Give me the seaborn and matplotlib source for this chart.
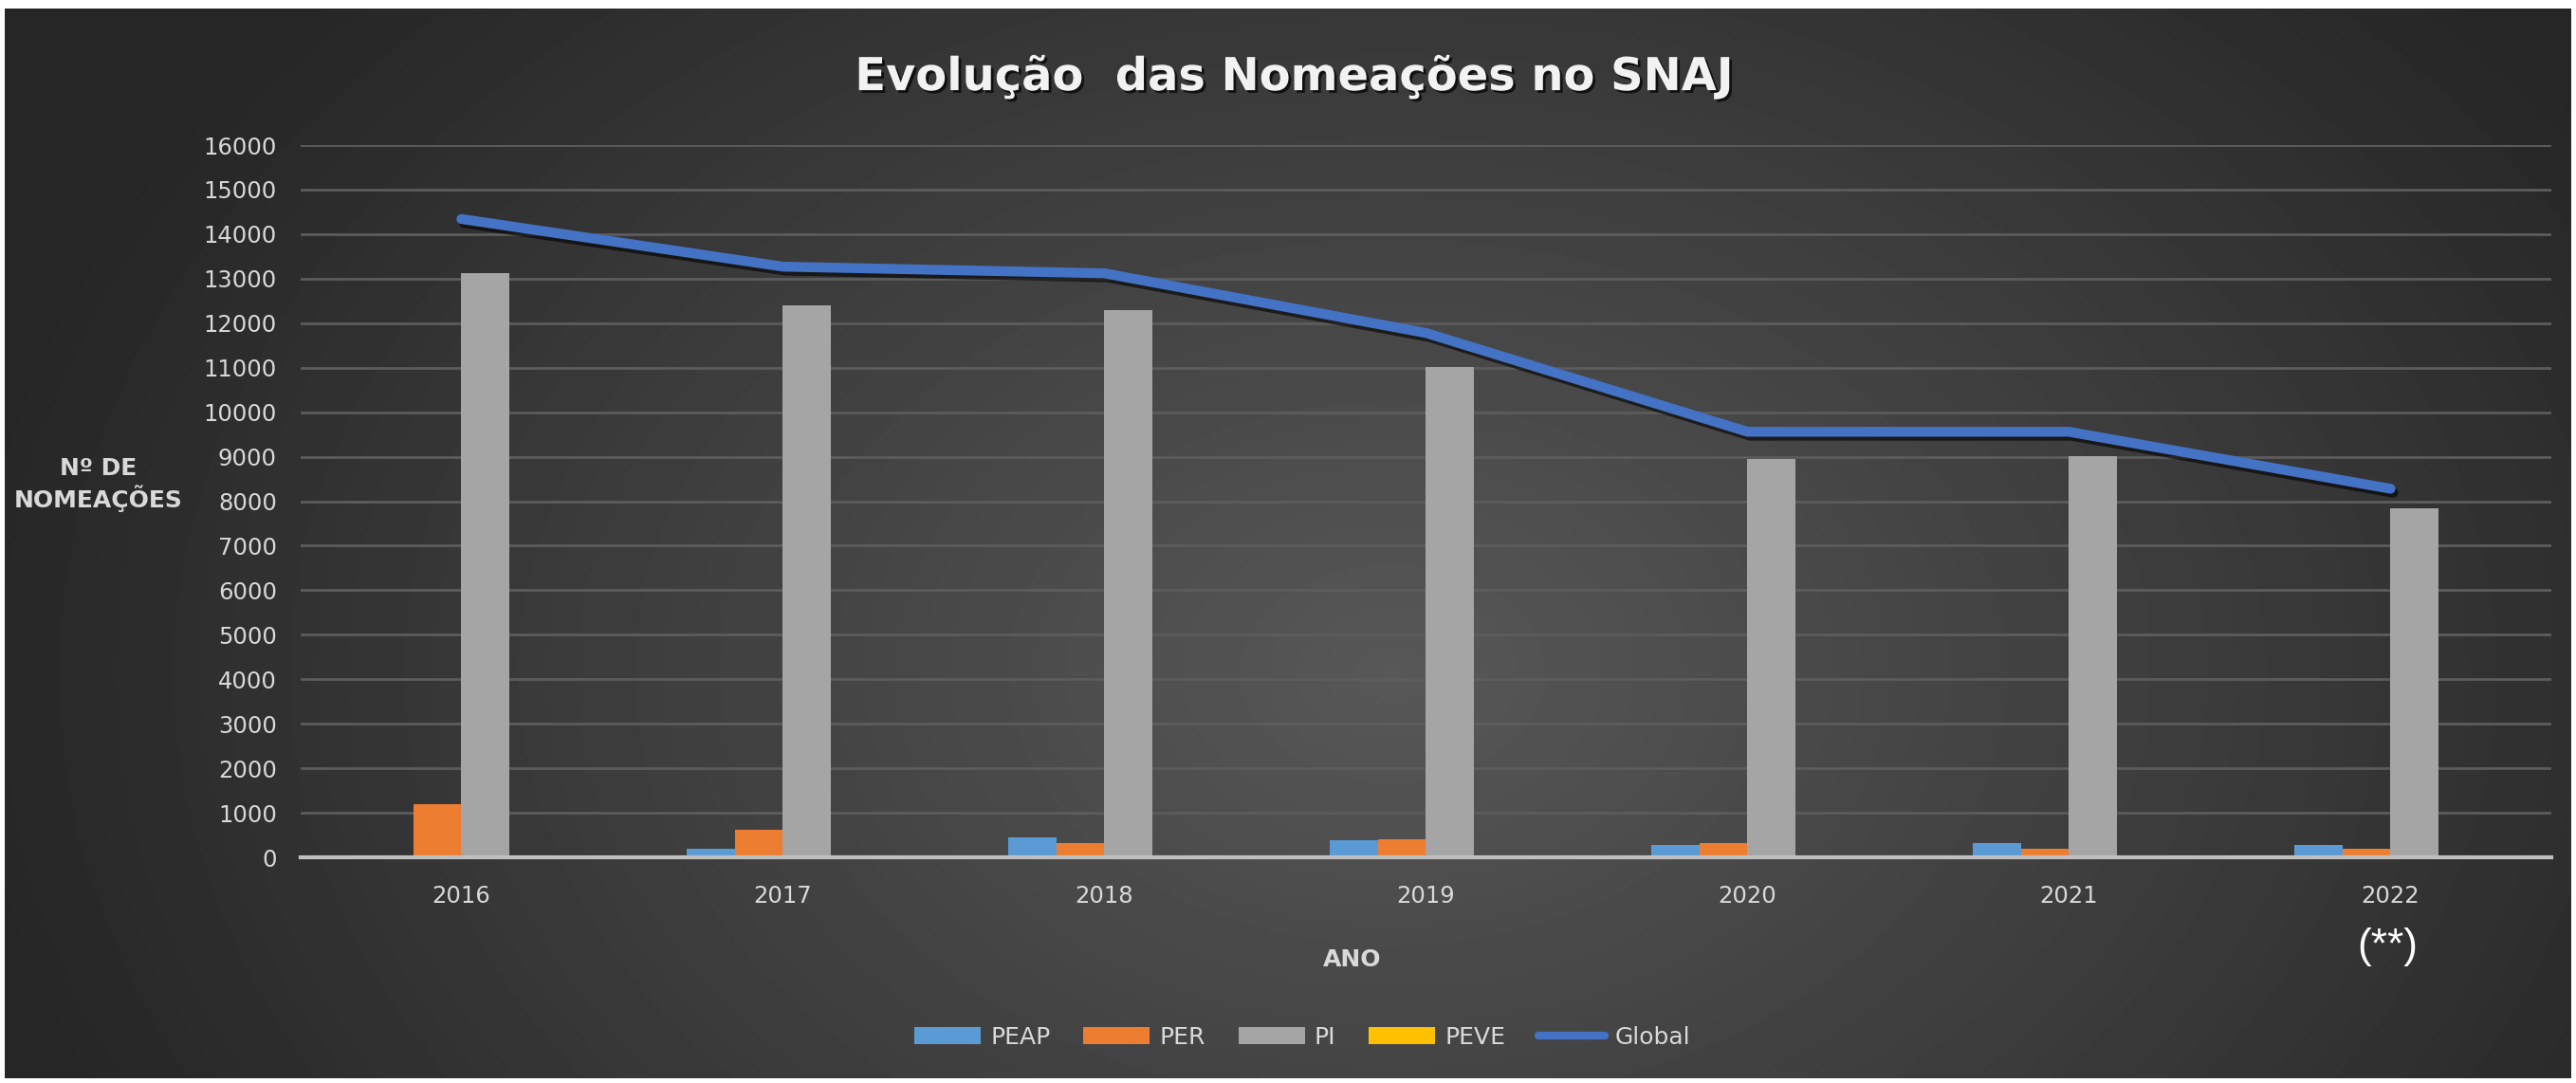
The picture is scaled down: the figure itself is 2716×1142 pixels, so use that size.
import numpy as np
import pandas as pd
import matplotlib.pyplot as plt
import matplotlib.patheffects as pe
from matplotlib.lines import Line2D
import seaborn as sns

# dados
anos = ['2016', '2017', '2018', '2019', '2020', '2021', '2022']
peap = [0, 200, 440, 390, 270, 325, 270]
per = [1200, 615, 325, 395, 320, 200, 200]
pi = [13130, 12400, 12290, 11010, 8950, 9010, 7840]
peve = [0, 0, 0, 0, 40, 35, 40]
global_total = [14340, 13270, 13120, 11780, 9560, 9560, 8280]

series = ['PEAP', 'PER', 'PI', 'PEVE']
cores = ['#5B9BD5', '#ED7D31', '#A5A5A5', '#FFC000']
cor_global = '#4472C4'
txt = '#d9d9d9'

df = pd.DataFrame({'Ano': anos * 4,
                   'Tipo': np.repeat(series, len(anos)),
                   'Valor': peap + per + pi + peve})
df_global = pd.DataFrame({'Ano': anos, 'Global': global_total})

sns.set_style('white')
plt.rcParams['font.family'] = ['DejaVu Sans']

fig = plt.figure(figsize=(27.16, 11.42), dpi=100, facecolor='white')

# fundo escuro com gradiente radial (estilo Excel)
bg = fig.add_axes([0.002, 0.004, 0.996, 0.988], zorder=-10)
hh, ww = 300, 700
yy, xx = np.mgrid[0:hh, 0:ww]
r = np.sqrt(((xx - 0.54 * ww) / (0.56 * ww)) ** 2 + ((yy - 0.62 * hh) / (0.95 * hh)) ** 2)
r = np.clip(r, 0, 1)
shade = 0.345 - 0.195 * r
bg.imshow(shade, cmap='gray', vmin=0, vmax=1, extent=[0, 1, 0, 1], aspect='auto', origin='upper')
bg.axis('off')

ax = fig.add_axes([0.1167, 0.2084, 0.8737, 0.6576])
ax.set_facecolor('none')

sns.barplot(data=df, x='Ano', y='Valor', hue='Tipo', order=anos, hue_order=series,
            palette=cores, width=0.6, saturation=1, linewidth=0, ax=ax, zorder=3)
handles, labels = ax.get_legend_handles_labels()
ax.legend_.remove()

sns.pointplot(data=df_global, x='Ano', y='Global', order=anos, color=cor_global,
              markers='', errorbar=None, ax=ax, linewidth=7.5, zorder=5)
ax.lines[-1].set_path_effects([pe.SimpleLineShadow(offset=(2, -3), shadow_color='black', alpha=0.6),
                               pe.Normal()])
if ax.get_legend() is not None:
    ax.get_legend().remove()

ax.set_xlim(-0.5, 6.5)
ax.set_ylim(0, 16000)
ax.set_yticks(range(0, 16001, 1000))
ax.yaxis.grid(True, color='#5c5c5c', linewidth=2)
ax.set_axisbelow(True)
for s in ['top', 'right', 'left']:
    ax.spines[s].set_visible(False)
ax.spines['bottom'].set_color('#bfbfbf')
ax.spines['bottom'].set_linewidth(3)
ax.spines['bottom'].set_zorder(4)
ax.tick_params(axis='y', length=0, labelsize=17.5, labelcolor=txt, pad=18)
ax.tick_params(axis='x', length=0, labelsize=17.5, labelcolor=txt, pad=21)
ax.set_xlabel('')
ax.set_ylabel('')

sombra = [pe.withSimplePatchShadow(offset=(2, -2), shadow_rgbFace='black', alpha=0.7)]
fig.text(0.502, 0.929, 'Evolução  das Nomeações no SNAJ', ha='center', va='center',
         fontsize=34.5, fontweight='bold', color='#f2f2f2', path_effects=sombra)
fig.text(0.0383, 0.5525, 'Nº DE\nNOMEAÇÕES', ha='center', va='center', multialignment='center',
         fontsize=18, fontweight='bold', color=txt, linespacing=1.25)
fig.text(0.525, 0.1138, 'ANO', ha='center', va='center', fontsize=18, fontweight='bold', color=txt)
fig.text(0.927, 0.126, '(**)', ha='center', va='center', fontsize=32, color='white',
         family=['Liberation Sans', 'DejaVu Sans'])

handles.append(Line2D([], [], color=cor_global, linewidth=6))
labels.append('Global')
fig.legend(handles, labels, loc='center', bbox_to_anchor=(0.5055, 0.042), ncol=5, frameon=False,
           fontsize=18, labelcolor=txt, handlelength=2.8, handleheight=0.72,
           handletextpad=0.4, columnspacing=1.4)

fig.savefig('out.png', dpi=100, facecolor=fig.get_facecolor())
